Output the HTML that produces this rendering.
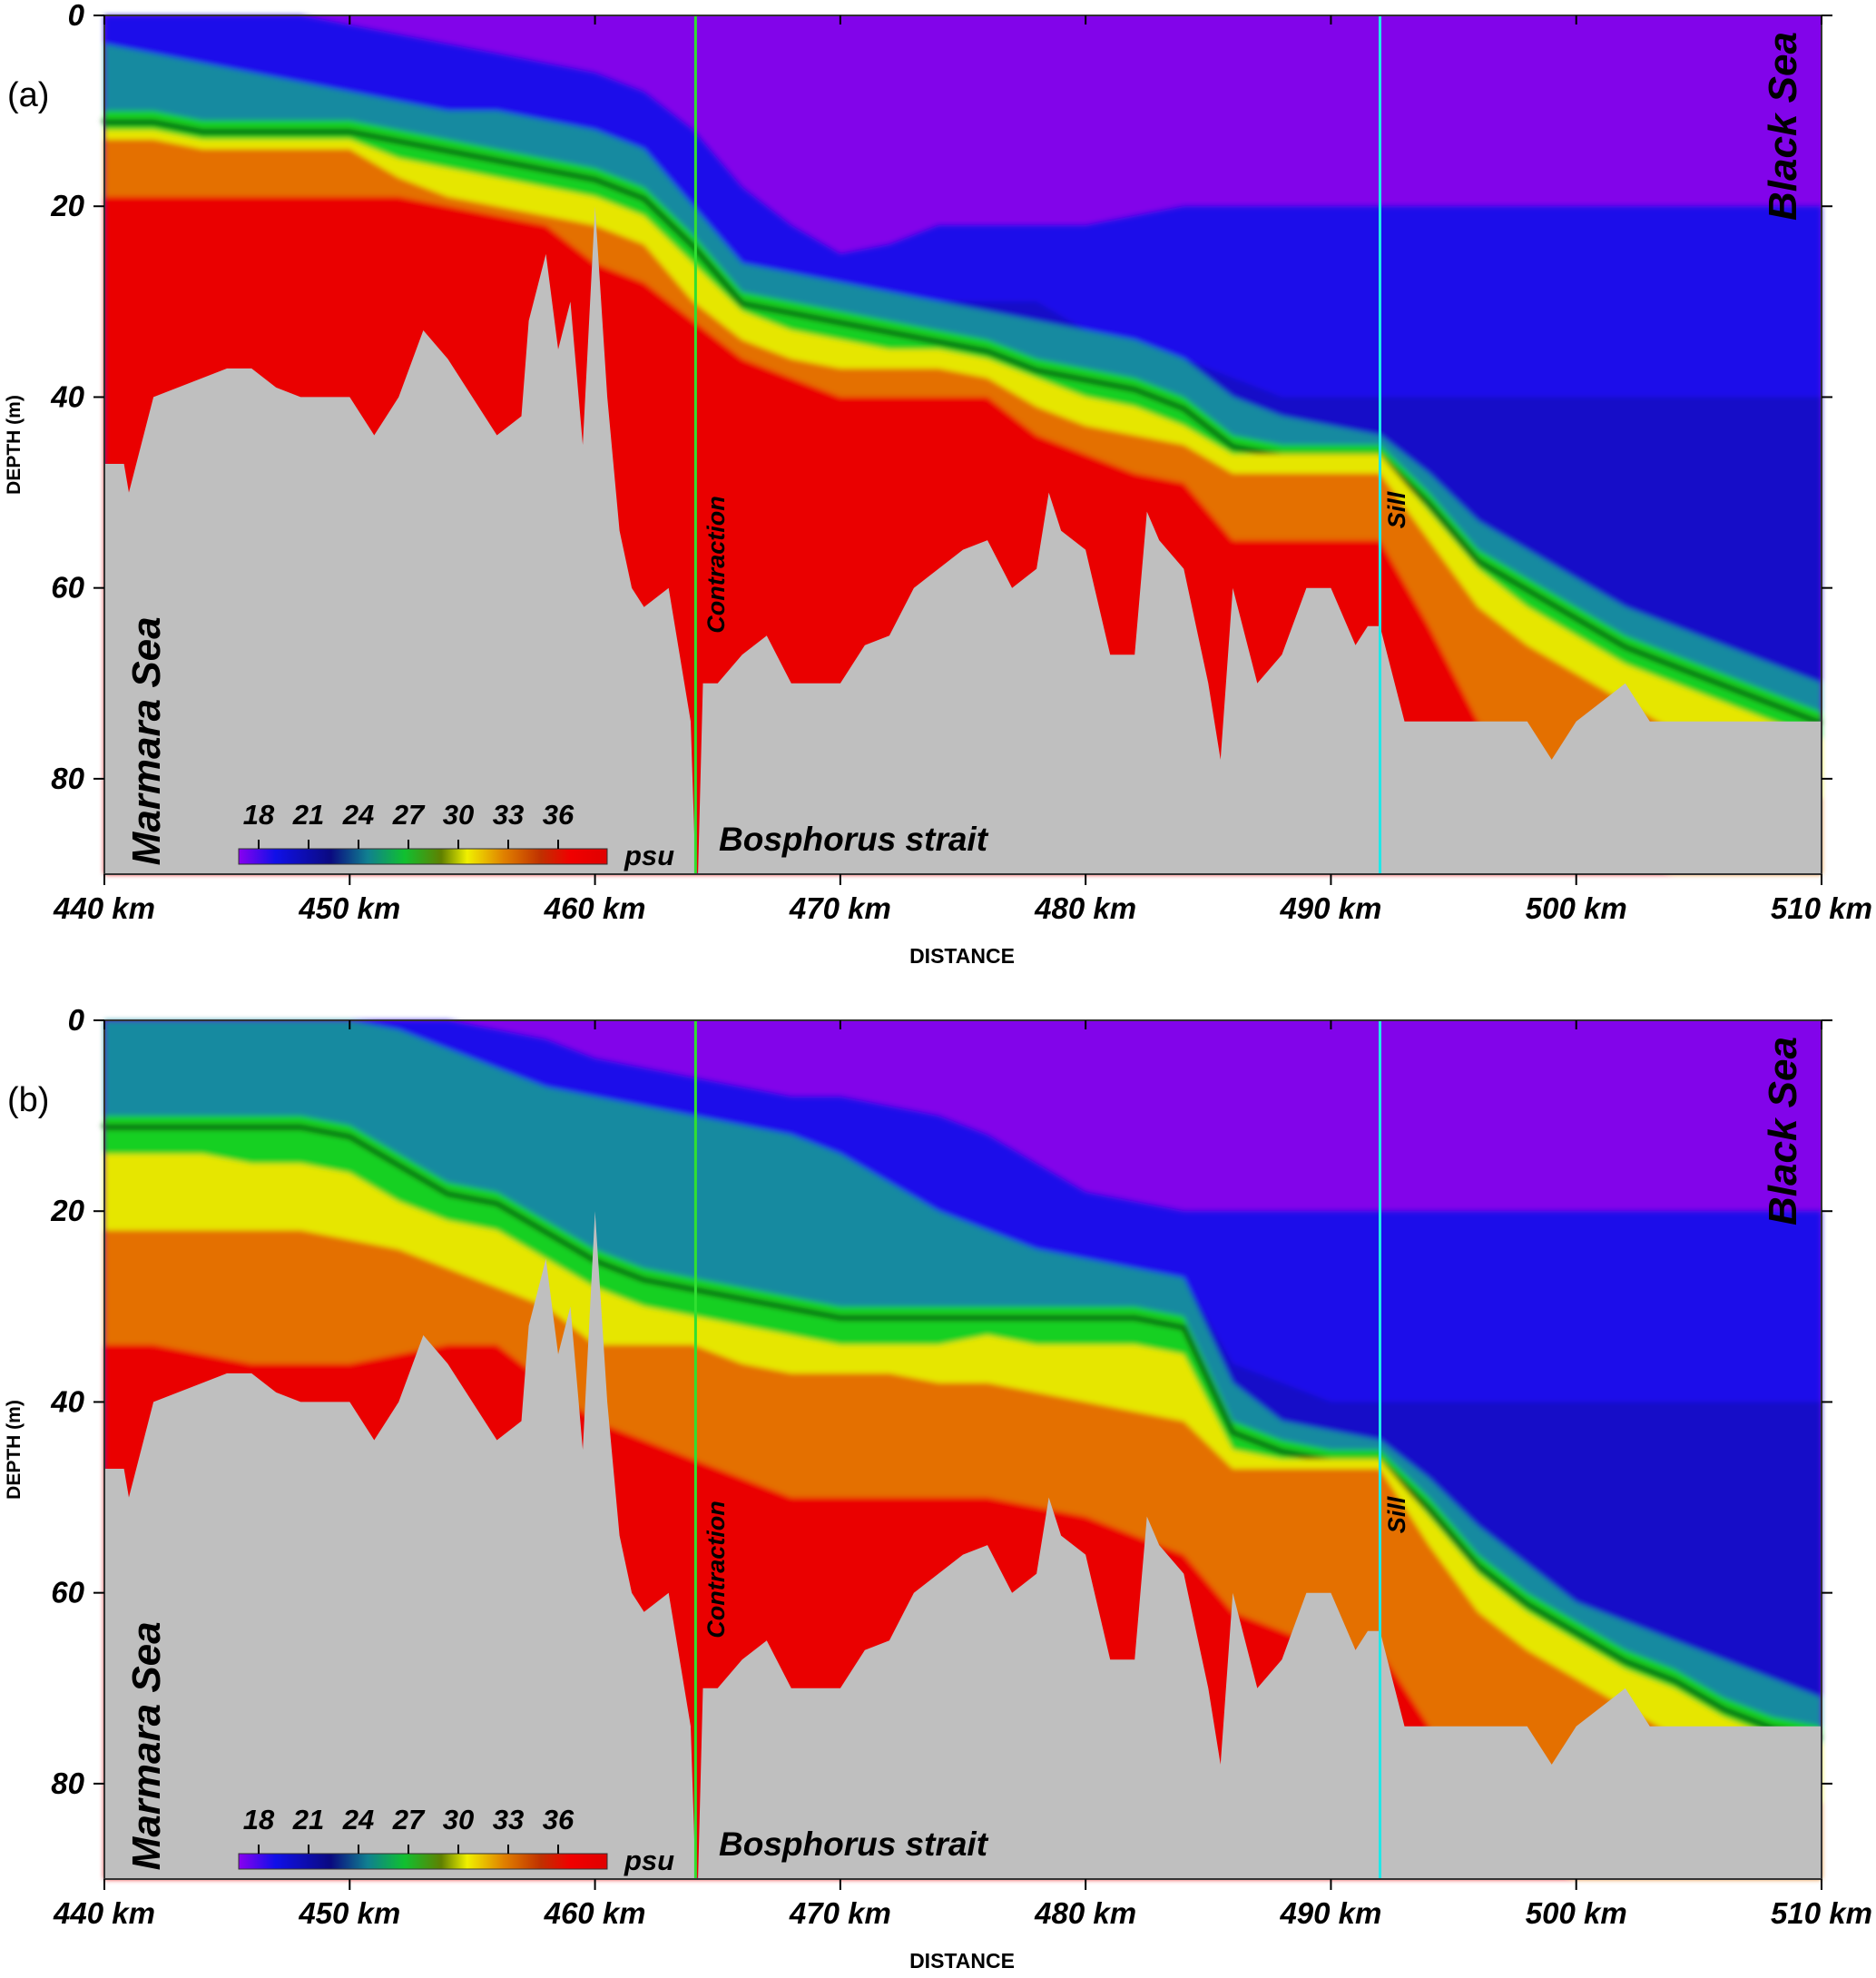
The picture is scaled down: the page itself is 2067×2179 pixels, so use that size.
<!DOCTYPE html>
<html><head><meta charset="utf-8">
<style>
html,body{margin:0;padding:0;background:#fff}
svg{display:block}
text{font-family:"Liberation Sans",Arial,sans-serif}
.tk{font-weight:bold;font-style:italic;font-size:33px}
</style></head>
<body>
<svg id="chart" width="2067" height="2179" viewBox="0 0 2067 2179" xmlns="http://www.w3.org/2000/svg">
<defs>
<filter id="blur" x="-5%" y="-5%" width="110%" height="110%"><feGaussianBlur stdDeviation="3"/></filter>
<linearGradient id="cbar" x1="0" x2="1" y1="0" y2="0">
<stop offset="0" stop-color="#8a00f0"/><stop offset="0.1" stop-color="#1010e8"/><stop offset="0.25" stop-color="#0a0a80"/>
<stop offset="0.35" stop-color="#108090"/><stop offset="0.45" stop-color="#10c030"/><stop offset="0.55" stop-color="#608000"/>
<stop offset="0.62" stop-color="#f0f000"/><stop offset="0.72" stop-color="#e08000"/><stop offset="0.82" stop-color="#c03000"/>
<stop offset="0.9" stop-color="#f00000"/><stop offset="1" stop-color="#e00000"/></linearGradient>
</defs>
</svg>
<script>
// Distance grid (km) for interface depths
const dist = [440,442,444,446,448,450,452,454,456,458,460,462,464,466,468,470,472,474,476,478,480,482,484,486,488,490,492,494,496,498,500,502,504,506,508,510];
// Panel (a) interface depths (m)
const aPurple = [0,0,0,0,0,1,2,3,4,5,6,8,12,18,22,25,24,22,22,22,22,21,20,20,20,20,20,20,20,20,20,20,20,20,20,20];
const aDeep   = [30,30,30,30,30,30,30,30,30,30,30,30,30,30,30,30,30,30,30,30,33,35,36,38,40,40,40,40,40,40,40,40,40,40,40,40];
const aTeal   = [3,4,5,6,7,8,9,10,10,11,12,14,20,26,27,28,29,30,31,32,33,34,36,40,42,43,44,48,53,56,59,62,64,66,68,70];
const aGreen  = [10,10,11,11,11,11,12,13,14,15,16,18,23,29,30,31,32,33,34,36,37,38,40,44,45,45,45,50,56,59,62,65,67,69,71,73];
const aYellow = [12,12,13,13,13,13,15,16,17,18,19,21,26,31,33,34,35,35,36,38,40,41,43,46,46,46,46,52,58,62,65,68,70,72,74,76];
const aOrange = [13,13,14,14,14,14,17,19,20,21,22,24,30,34,36,37,37,37,38,41,43,44,45,48,48,48,48,55,62,66,69,72,75,78,80,82];
const aRed    = [19,19,19,19,19,19,19,20,21,22,26,28,32,36,38,40,40,40,40,44,46,48,49,55,55,55,55,64,74,80,84,88,90,90,90,90];
// Panel (b) interface depths (m)
const bPurple = [0,0,0,0,0,0,0,0,1,2,4,5,6,7,8,8,9,10,12,15,18,19,20,20,20,20,20,20,20,20,20,20,20,20,20,20];
const bDeep   = [30,30,30,30,30,30,30,30,30,30,30,30,30,30,30,30,30,30,30,30,30,30,30,36,38,40,40,40,40,40,40,40,40,40,40,40];
const bTeal   = [0,0,0,0,0,0,1,3,5,7,8,9,10,11,12,14,17,20,22,24,25,26,27,38,42,43,44,48,53,57,61,63,65,67,69,71];
const bGreen  = [10,10,10,10,10,11,14,17,18,21,24,26,27,28,29,30,30,30,30,30,30,30,31,42,44,45,45,50,56,60,63,66,68,71,73,74];
const bYellow = [14,14,14,15,15,16,19,21,22,25,28,30,31,32,33,34,34,34,33,34,34,34,35,45,46,46,46,52,58,62,65,68,70,73,75,76];
const bOrange = [22,22,22,22,22,23,24,26,28,30,34,34,34,36,37,37,37,38,38,39,40,41,42,47,47,47,47,55,62,66,69,72,75,78,80,82];
const bRed    = [34,34,35,36,36,36,35,34,34,38,42,44,46,48,50,50,50,50,50,51,52,54,56,62,64,66,66,74,82,88,90,90,90,90,90,90];
// Bottom (seabed) depth profile
const bedDist  = [440,440.8,441,442,443,445,446,447,448,450,451,451.5,452,453,454,455,456,457,457.3,458,458.5,459,459.5,460,460.5,461,461.5,462,463,463.9,464.1,464.2,464.4,465,466,467,468,469,470,471,472,473,474,475,476,477,478,478.5,479,480,481,482,482.5,483,484,485,485.5,486,487,488,489,490,491,491.5,492,493,494,496,498,499,500,502,503,506,508,510];
const bedDepth = [47,47,50,40,39,37,37,39,40,40,44,42,40,33,36,40,44,42,32,25,35,30,45,20,40,54,60,62,60,74,90,90,70,70,67,65,70,70,70,66,65,60,58,56,55,60,58,50,54,56,67,67,52,55,58,70,78,60,70,67,60,60,66,64,64,74,74,74,74,78,74,70,74,74,74,74];

const svg = document.getElementById('chart');
const NS = 'http://www.w3.org/2000/svg';
const X0 = 115, X1 = 2007, KM0 = 440, KM1 = 510;
const H = 946, DMAX = 90;
function xs(km){ return X0 + (km-KM0)/(KM1-KM0)*(X1-X0); }
function mk(tag, attrs, parent){ const e=document.createElementNS(NS,tag); for(const k in attrs) e.setAttribute(k,attrs[k]); (parent||svg).appendChild(e); return e; }

const panels = [
  {top:17, label:'(a)', layers:[aPurple,aDeep,aTeal,aGreen,aYellow,aOrange,aRed], id:'a'},
  {top:1124, label:'(b)', layers:[bPurple,bDeep,bTeal,bGreen,bYellow,bOrange,bRed], id:'b'}
];
const colors = ['#1c10ea','#1410c8','#158aa0','#18d020','#e6e600','#e47000','#ea0500'];
const names = ['blue-layer','deep-blue-layer','teal-layer','green-layer','yellow-layer','orange-layer','red-layer'];

panels.forEach(p=>{
  const T=p.top, B=T+H;
  const ys = d => T + d/DMAX*H;
  const g = mk('g',{});
  
  
  const bg = mk('rect',{x:X0,y:T,width:X1-X0,height:H,fill:'#8204ea'},g);
  
  
  const lg = mk('g',{filter:'url(#blur)'},g);
  p.layers.forEach((arr,i)=>{
    let d='M'+xs(dist[0])+','+B;
    dist.forEach((km,j)=>{
      let v=arr[j];
      if(i===1){ v=Math.min(v, p.layers[2][j]); }
      d+=' L'+xs(km).toFixed(1)+','+ys(v).toFixed(1);
    });
    d+=' L'+xs(dist[dist.length-1])+','+B+' Z';
    const path = mk('path',{d:d,fill:colors[i]},lg);
    
    
    if(i===3){
      let d2='M'+xs(dist[0])+','+ys(arr[0]+1.2);
      dist.forEach((km,j)=>{ d2+=' L'+xs(km).toFixed(1)+','+ys(arr[j]+1.2).toFixed(1); });
      mk('path',{d:d2,fill:'none',stroke:'#0a6010','stroke-width':6},lg);
    }
  });
  let bd='M'+X0+','+B;
  bedDist.forEach((km,j)=>{ bd+=' L'+xs(km).toFixed(1)+','+ys(bedDepth[j]).toFixed(1); });
  bd+=' L'+X1+','+B+' Z';
  const bed = mk('path',{d:bd,fill:'#bfbfbf'},g);
  
  
  const c1 = mk('line',{x1:xs(464.1),x2:xs(464.1),y1:T,y2:B,stroke:'#30e030','stroke-width':3},g);
  
  
  const c2 = mk('line',{x1:xs(492),x2:xs(492),y1:T,y2:B,stroke:'#20e8e8','stroke-width':3},g);
  
  
  mk('rect',{x:X0,y:T,width:X1-X0,height:H,fill:'none',stroke:'#333','stroke-width':2},g);
  [0,20,40,60,80].forEach(v=>{
    const y=ys(v);
    mk('line',{x1:X0-12,x2:X0,y1:y,y2:y,stroke:'#000','stroke-width':2},g);
    mk('line',{x1:X1,x2:X1+12,y1:y,y2:y,stroke:'#000','stroke-width':2},g);
    const t=mk('text',{x:X0-22,y:y+11,'text-anchor':'end',class:'tk'},g); t.textContent=v;
    
    
  });
  for(let km=440;km<=510;km+=10){
    const x=xs(km);
    mk('line',{x1:x,x2:x,y1:B,y2:B+12,stroke:'#000','stroke-width':2},g);
    mk('line',{x1:x,x2:x,y1:T,y2:T+10,stroke:'#000','stroke-width':2},g);
    const t=mk('text',{x:x,y:B+49,'text-anchor':'middle',class:'tk'},g); t.textContent=km+' km';
    
    
  }
  const yt=mk('text',{transform:`translate(22,${T+H*0.5}) rotate(-90)`,'text-anchor':'middle','font-size':21,'font-weight':'bold'},g);
  yt.textContent='DEPTH (m)';
  
  
  const xt=mk('text',{x:1060,y:B+98,'text-anchor':'middle','font-size':23,'font-weight':'bold'},g);
  xt.textContent='DISTANCE';
  
  
  const pl=mk('text',{x:8,y:T+100,'font-size':38},g);
  pl.textContent=p.label;
  
  
  const ms=mk('text',{transform:`translate(176,${T+H*0.845}) rotate(-90)`,'text-anchor':'middle','font-size':44,'font-weight':'bold','font-style':'italic'},g);
  ms.textContent='Marmara Sea';
  
  
  const bs=mk('text',{transform:`translate(1979,${T+122}) rotate(-90)`,'text-anchor':'middle','font-size':44,'font-weight':'bold','font-style':'italic'},g);
  bs.textContent='Black Sea';
  
  
  const ct=mk('text',{transform:`translate(798,${T+605}) rotate(-90)`,'text-anchor':'middle','font-size':27,'font-weight':'bold','font-style':'italic'},g);
  ct.textContent='Contraction';
  
  
  const sl=mk('text',{transform:`translate(1548,${T+545}) rotate(-90)`,'text-anchor':'middle','font-size':27,'font-weight':'bold','font-style':'italic'},g);
  sl.textContent='Sill';
  
  
  const bp=mk('text',{x:792,y:T+920,'font-size':37,'font-weight':'bold','font-style':'italic'},g);
  bp.textContent='Bosphorus strait';
  
  
  const cb=mk('rect',{x:263,y:T+918,width:406,height:17,fill:'url(#cbar)',stroke:'#333','stroke-width':1},g);
  
  
  [18,21,24,27,30,33,36].forEach((v,i)=>{
    const x=285+i*55;
    mk('line',{x1:x,x2:x,y1:T+908,y2:T+918,stroke:'#000','stroke-width':2},g);
    const t=mk('text',{x:x,y:T+891,'text-anchor':'middle','font-size':31,'font-style':'italic','font-weight':'bold'},g);
    t.textContent=v;
    
    
  });
  const ps=mk('text',{x:688,y:T+936,'font-size':31,'font-style':'italic','font-weight':'bold'},g);
  ps.textContent='psu';
  
  
});
</script>
</body></html>
